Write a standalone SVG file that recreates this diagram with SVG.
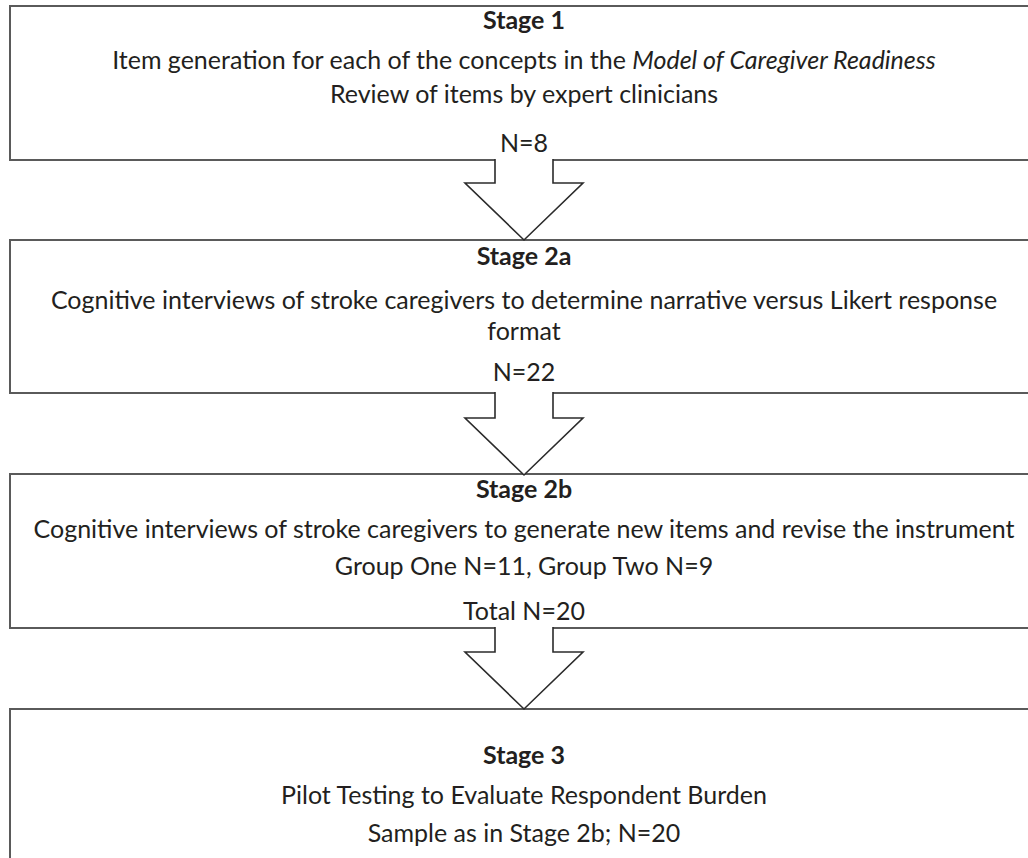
<svg xmlns="http://www.w3.org/2000/svg" width="1028" height="858" viewBox="0 0 1028 858">
<style>
.box{fill:#fff;stroke:#5a5a5a;stroke-width:2}
.arr{fill:#fff;stroke:#2b2b2b;stroke-width:1.6;stroke-linejoin:miter}
text{font-family:Lato,"Open Sans","Liberation Sans",sans-serif;font-size:25px;fill:#231f20;text-anchor:middle}
.h{font-weight:bold}
</style>
<rect width="1028" height="858" fill="#fff"/>
<g id="stage1">
<rect class="box" x="10" y="6" width="1040" height="154"/>
<text class="h" x="524" y="29">Stage 1</text>
<text x="524" y="69">Item generation for each of the concepts in the <tspan font-style="italic">Model of Caregiver Readiness</tspan></text>
<text x="524" y="103">Review of items by expert clinicians</text>
<text x="524" y="152">N=8</text>
</g>
<g id="stage2a">
<rect class="box" x="10" y="240" width="1040" height="153"/>
<text class="h" x="524" y="265">Stage 2a</text>
<text x="524" y="309">Cognitive interviews of stroke caregivers to determine narrative versus Likert response</text>
<text x="524" y="340">format</text>
<text x="524" y="381">N=22</text>
</g>
<g id="stage2b">
<rect class="box" x="10" y="474" width="1040" height="154"/>
<text class="h" x="524" y="498">Stage 2b</text>
<text x="524" y="538">Cognitive interviews of stroke caregivers to generate new items and revise the instrument</text>
<text x="524" y="575">Group One N=11, Group Two N=9</text>
<text x="524" y="620">Total N=20</text>
</g>
<g id="stage3">
<rect class="box" x="10" y="709" width="1040" height="200"/>
<text class="h" x="524" y="764">Stage 3</text>
<text x="524" y="804">Pilot Testing to Evaluate Respondent Burden</text>
<text x="524" y="842">Sample as in Stage 2b; N=20</text>
</g>
<g id="connectors">
<path class="arr" d="M495,159 V183 H465 L524,240 L583,183 H553 V159"/>
<path class="arr" d="M495,392 V418 H465 L524,475 L583,418 H553 V392"/>
<path class="arr" d="M495,627 V652 H465 L524,709 L583,652 H553 V627"/>
</g>
</svg>
